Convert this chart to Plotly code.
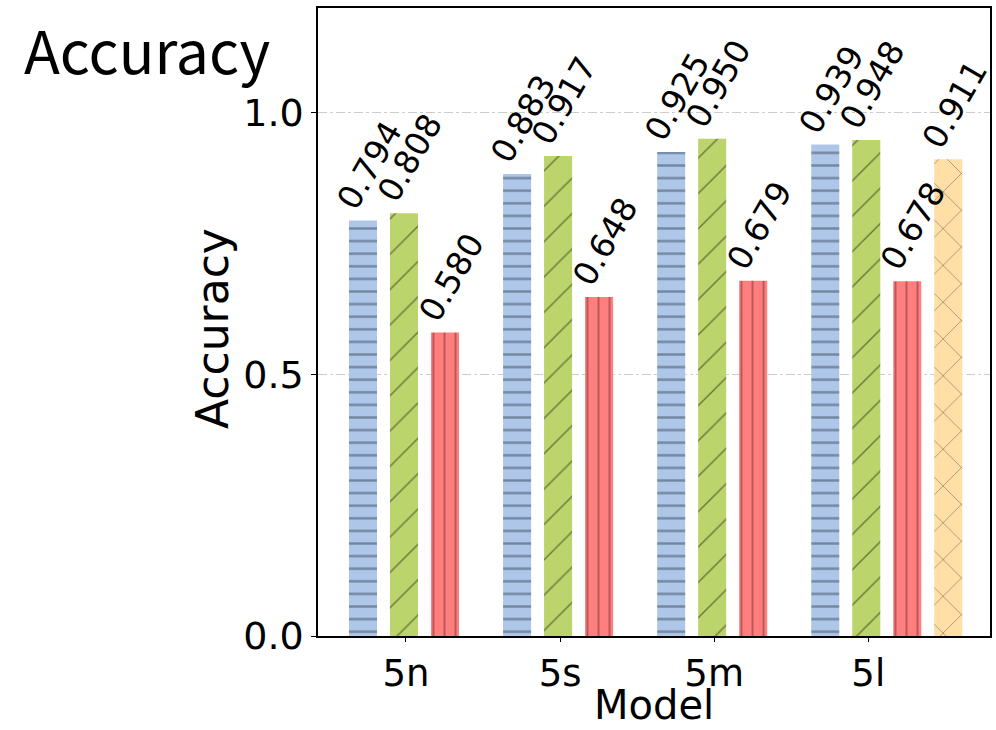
import plotly.graph_objects as go

# Model variants on the x axis
models = ["5n", "5s", "5m", "5l"]

# Accuracy per series (None where a series has no bar)
series_a = [0.794, 0.883, 0.925, 0.939]
series_b = [0.808, 0.917, 0.950, 0.948]
series_c = [0.580, 0.648, 0.679, 0.678]
series_d = [None, None, None, 0.911]

y_ticks = [0.0, 0.5, 1.0]

styles = [
    dict(values=series_a, color="#aec7e8", shape="-", size=12.6, sol=0.2, fg="#3a4a5c", offset=-0.37),
    dict(values=series_b, color="#bcd46c", shape="/", size=25, sol=0.06, fg="#1a2208", offset=-0.104),
    dict(values=series_c, color="#ff7f7f", shape="|", size=11, sol=0.18, fg="#7a3030", offset=0.162),
    dict(values=series_d, color="#ffdfa6", shape="x", size=26, sol=0.05, fg="#111111", offset=0.428),
]
bar_w = 0.182

fig = go.Figure()
annotations = []
idx = list(range(len(models)))
for st in styles:
    fig.add_trace(go.Bar(
        x=idx, y=st["values"], offset=st["offset"], width=bar_w,
        marker=dict(color=st["color"], line=dict(width=0),
                    pattern=dict(shape=st["shape"], size=st["size"], solidity=st["sol"],
                                 fgcolor=st["fg"], bgcolor=st["color"], fillmode="overlay")),
        showlegend=False, hoverinfo="skip",
    ))
    for i, v in zip(idx, st["values"]):
        if v is None:
            continue
        annotations.append(dict(
            x=i + st["offset"] + bar_w / 2 + 0.04, y=v, xref="x", yref="y",
            text=f"{v:.3f}", showarrow=False, textangle=-60,
            xanchor="center", yanchor="bottom", yshift=2,
            font=dict(family="DejaVu Sans", size=33, color="black"),
        ))

# Plot area in pixels, used to place the free-standing texts
plot_left, plot_w, plot_bottom, plot_h = 318, 672, 636, 628

# Corner caption above the y axis
annotations.append(dict(
    x=(22 - plot_left) / plot_w, y=1 + (12 - 8) / plot_h, xref="paper", yref="paper",
    text="Accuracy", showarrow=False,
    font=dict(family="Noto Sans CJK SC", size=59, color="black"),
    xanchor="left", yanchor="top",
))
# Axis titles
annotations.append(dict(
    x=0.5, y=-(705 - plot_bottom) / plot_h, xref="paper", yref="paper",
    text="Model", showarrow=False, xanchor="center", yanchor="middle",
    font=dict(family="DejaVu Sans", size=40, color="black"),
))
annotations.append(dict(
    x=(213 - plot_left) / plot_w, y=(plot_bottom - 329) / plot_h, xref="paper", yref="paper",
    text="Accuracy", showarrow=False, textangle=-90, xanchor="center", yanchor="middle",
    font=dict(family="DejaVu Sans", size=44, color="black"),
))

fig.update_layout(
    width=996, height=730,
    margin=dict(l=318, r=6, t=8, b=94, autoexpand=False),
    paper_bgcolor="white", plot_bgcolor="white",
    barmode="overlay",
    annotations=annotations,
    xaxis=dict(
        range=[-0.571, 3.79], tickvals=idx, ticktext=models, automargin=False,
        showline=True, linecolor="black", linewidth=1.5, mirror=True,
        ticks="outside", ticklen=4, tickcolor="black",
        tickfont=dict(family="DejaVu Sans", size=37, color="black"),
        showgrid=False, zeroline=False,
    ),
    yaxis=dict(
        range=[0, 1.2], tickvals=y_ticks, ticktext=[f"{t:.1f}" for t in y_ticks], automargin=False,
        showline=True, linecolor="black", linewidth=1.5, mirror=True,
        ticks="outside", ticklen=5, tickcolor="black",
        tickfont=dict(family="DejaVu Sans", size=38, color="black"),
        showgrid=True, gridcolor="#cccccc", gridwidth=1, griddash="dashdot", zeroline=False,
    ),
)

fig.write_html("out.html")
